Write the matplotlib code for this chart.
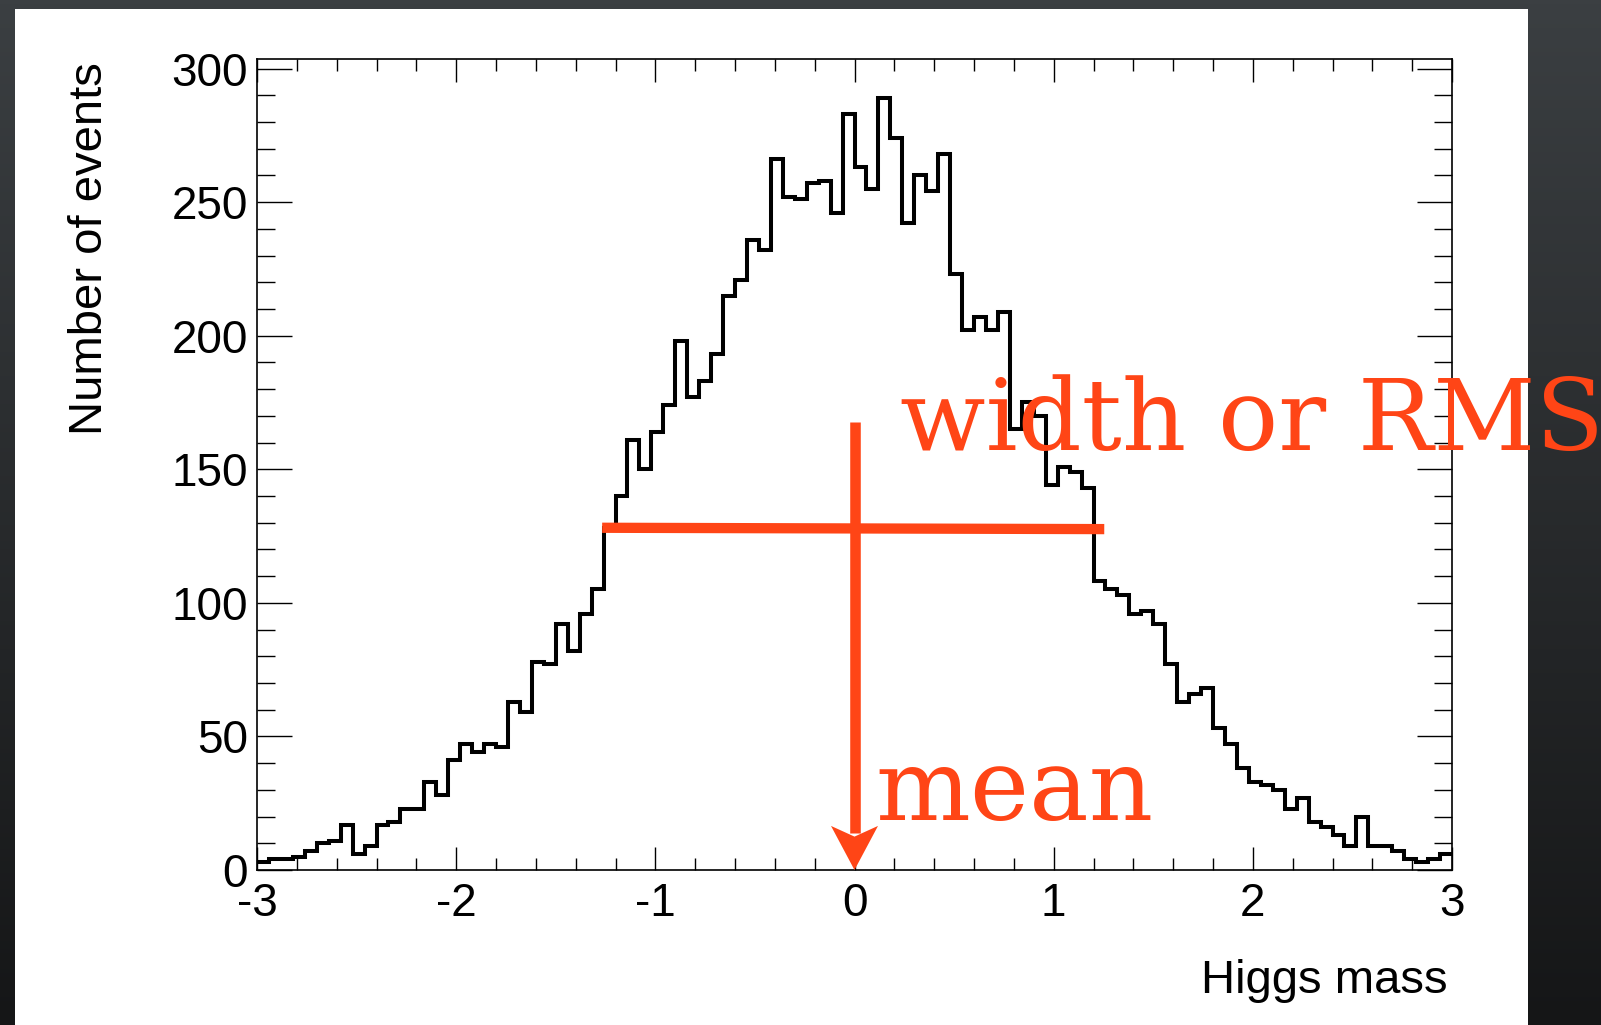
import numpy as np
import matplotlib.pyplot as plt
from matplotlib.ticker import MultipleLocator
from matplotlib.patches import Rectangle
from matplotlib.colors import LinearSegmentedColormap

plt.rcParams['axes.unicode_minus'] = False

# entries per bin, 100 bins between -3 and 3
counts = [3, 4, 4, 5, 7, 10, 11, 17, 6, 9,
          17, 18, 23, 23, 33, 28, 41, 47, 44, 47,
          46, 63, 59, 78, 77, 92, 82, 96, 105, 128,
          140, 161, 150, 164, 174, 198, 177, 183, 193, 215,
          221, 236, 232, 266, 252, 251, 257, 258, 246, 283,
          263, 255, 289, 274, 242, 260, 254, 268, 223, 202,
          207, 202, 209, 165, 175, 170, 144, 151, 149, 143,
          108, 105, 103, 96, 97, 92, 77, 63, 66, 68,
          53, 47, 38, 33, 32, 30, 23, 27, 18, 16,
          13, 9, 20, 9, 9, 7, 4, 3, 4, 6]
x_min, x_max, n_bins = -3, 3, 100
edges = np.linspace(x_min, x_max, n_bins + 1)

x_ticks = [-3, -2, -1, 0, 1, 2, 3]
y_ticks = [0, 50, 100, 150, 200, 250, 300]

red = '#ff4516'
W, H = 1601, 1025

fig = plt.figure(figsize=(W / 100, H / 100), dpi=100)

# dark slide background with the white panel on top
bg = fig.add_axes([0, 0, 1, 1], zorder=-2)
bg.axis('off')
cmap = LinearSegmentedColormap.from_list('slide', ['#151617', '#3b3f42'])
bg.imshow(np.linspace(0, 1, 256)[::-1].reshape(-1, 1), aspect='auto',
          cmap=cmap, extent=(0, 1, 0, 1))
bg.set_xlim(0, 1)
bg.set_ylim(0, 1)
bg.add_patch(Rectangle((15 / W, 0), (1528 - 15) / W, (H - 9) / H,
                       facecolor='white', edgecolor='none'))

ax = fig.add_axes([257 / W, 1 - 870 / H, 1195 / W, (870 - 59.3) / H])
ax.set_facecolor('white')
ax.stairs(counts, edges, baseline=None, color='black', linewidth=2.9)

ax.set_xlim(x_min, x_max)
ax.set_ylim(0, max(counts) * 1.05)
ax.set_xticks(x_ticks)
ax.set_yticks(y_ticks)
ax.xaxis.set_minor_locator(MultipleLocator(0.2))
ax.yaxis.set_minor_locator(MultipleLocator(10))
for s in ax.spines.values():
    s.set_linewidth(1.2)

ax.tick_params(which='both', direction='in', top=True, right=True,
               width=1.0, labelsize=33)
ax.tick_params(axis='x', which='major', length=16.6, pad=9)
ax.tick_params(axis='x', which='minor', length=8.6)
ax.tick_params(axis='y', which='major', length=25, pad=6.5)
ax.tick_params(axis='y', which='minor', length=12.7)
for lab in ax.get_xticklabels() + ax.get_yticklabels():
    lab.set_family('Liberation Sans')

fig.text(102 / W, 1 - 62 / H, 'Number of events', rotation=90,
         rotation_mode='anchor', ha='right', va='baseline',
         fontsize=34, family='Liberation Sans')
fig.text(1448 / W, 1 - 993 / H, 'Higgs mass', ha='right', va='baseline',
         fontsize=34, family='Liberation Sans')

# mean arrow and width bar
ax.plot([0, 0], [167.7, 14], color=red, linewidth=7.6,
        solid_capstyle='butt', clip_on=False, zorder=5)
ax.fill([-0.118, 0, 0.118, 0], [16.5, 0, 16.5, 12.5], color=red,
        linewidth=0, clip_on=False, zorder=5)
ax.plot([-1.267, 1.254], [128.1, 127.6], color=red, linewidth=7.4,
        solid_capstyle='butt', clip_on=False, zorder=5)

ax.text(0.23, 157.1, 'width or RMS', color=red, fontsize=72,
        family='DejaVu Serif', ha='left', va='baseline',
        clip_on=False, zorder=6)
ax.text(0.105, 18.7, 'mean', color=red, fontsize=72,
        family='DejaVu Serif', ha='left', va='baseline',
        clip_on=False, zorder=6)

fig.savefig('out.png', dpi=100)
